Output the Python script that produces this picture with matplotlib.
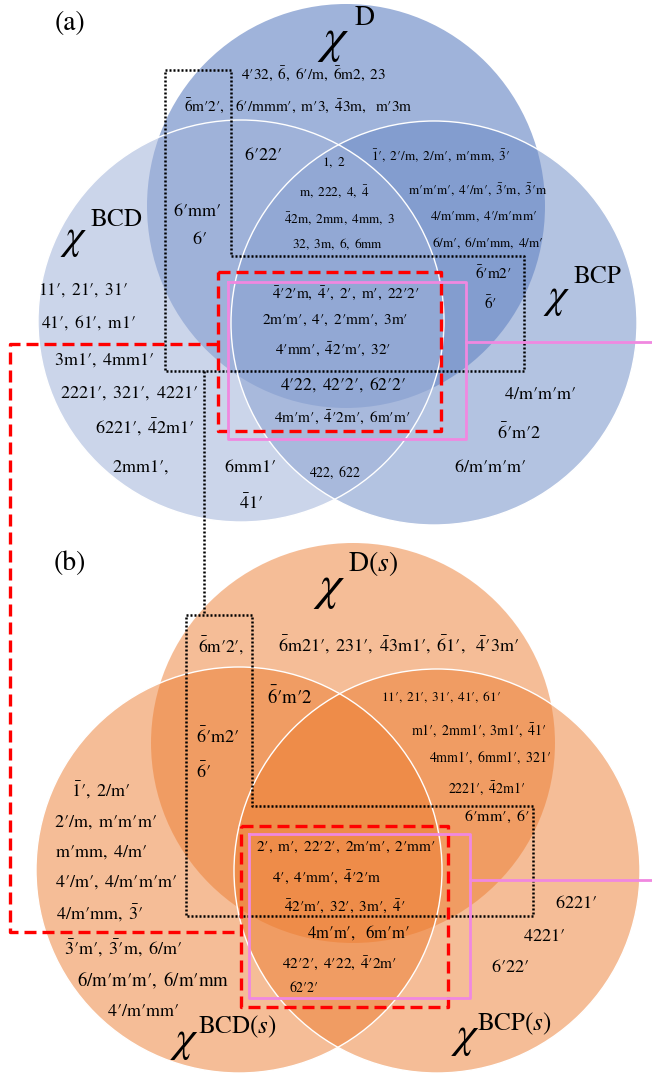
import matplotlib
matplotlib.use("Agg")
import matplotlib.pyplot as plt
from matplotlib.patches import Ellipse

plt.rcParams['mathtext.fontset'] = 'stix'
plt.rcParams['mathtext.default'] = 'rm'
plt.rcParams['font.family'] = ['STIXGeneral', 'Liberation Serif', 'DejaVu Serif']

# ---- labels, panel (a): "-x" = bar over x, "'" = prime ----
a_labels = [
    "4'32, -6, 6'/m, -6m2, 23",
    "-6m'2',",
    "6'/mmm', m'3, -43m,  m'3m",
    "6'22'",
    "1, 2",
    "m, 222, 4, -4",
    "-42m, 2mm, 4mm, 3",
    "32, 3m, 6, 6mm",
    "-1', 2'/m, 2/m', m'mm, -3'",
    "m'm'm', 4'/m', -3'm, -3'm",
    "4/m'mm, 4'/m'mm'",
    "6/m', 6/m'mm, 4/m'",
    "6'mm'",
    "6'",
    "11', 21', 31'",
    "41', 61', m1'",
    "3m1', 4mm1'",
    "2221', 321', 4221'",
    "6221', -42m1'",
    "2mm1',",
    "6mm1'",
    "422, 622",
    "-41'",
    "-6'm2'",
    "-6'",
    "-4'2'm, -4', 2', m', 22'2'",
    "2m'm', 4', 2'mm', 3m'",
    "4'mm', -42'm', 32'",
    "4'22, 42'2', 62'2'",
    "4m'm', -4'2m', 6m'm'",
    "4/m'm'm'",
    "-6'm'2",
    "6/m'm'm'",
]

# ---- labels, panel (b) ----
b_labels = [
    "-6m'2',",
    "-6m21', 231', -43m1', -61',  -4'3m'",
    "-6'm'2",
    "11', 21', 31', 41', 61'",
    "m1', 2mm1', 3m1', -41'",
    "4mm1', 6mm1', 321'",
    "2221', -42m1'",
    "6'mm', 6'",
    "-6'm2'",
    "-6'",
    "-1', 2/m'",
    "2'/m, m'm'm'",
    "m'mm, 4/m'",
    "4'/m', 4/m'm'm'",
    "4/m'mm, -3'",
    "-3'm', -3'm, 6/m'",
    "6/m'm'm', 6/m'mm",
    "4'/m'mm'",
    "2', m', 22'2', 2m'm', 2'mm'",
    "4', 4'mm', -4'2'm",
    "-42'm', 32', 3m', -4'",
    "4m'm',  6m'm'",
    "42'2', 4'22, -4'2m'",
    "62'2'",
    "6221'",
    "4221'",
    "6'22'",
]

set_names = ["D", "BCD", "BCP"]
set_names_s = [r"D(\mathit{s})", r"BCD(\mathit{s})", r"BCP(\mathit{s})"]

# ---- layout (pixel coords, y down) ----
a_pos = [(314, 74), (204, 106), (324, 106), (263, 155), (334, 163), (334, 192),
         (340, 219), (338, 244), (441, 156), (478, 190), (484, 217), (488, 243),
         (197, 212), (199, 240), (83, 290), (88, 323), (104, 360), (129, 393),
         (145, 427), (140, 467), (250, 467), (335, 473), (251, 503), (493, 273),
         (490, 303), (346, 293), (335, 320), (333, 349), (343, 385), (342, 417),
         (540, 395), (519, 433), (490, 467)]
a_size = [11, 11, 11, 13, 9.5, 9.5, 9.5, 9.5, 9.5, 9.5, 9.5, 9.5,
          13, 13, 12.5, 12.5, 13, 13, 13, 13, 13, 10, 13, 11,
          11, 11, 11, 11, 12.5, 11, 13, 13, 13]

b_pos = [(221, 645), (398, 645), (290, 697), (441, 697), (479, 730), (490, 758),
         (487, 788), (497, 817), (218, 737), (203, 772), (101, 790), (105, 822),
         (101, 852), (116, 882), (100, 913), (123, 948), (153, 980), (143, 1012),
         (346, 847), (327, 877), (345, 906), (358, 933), (340, 963), (304, 988),
         (576, 903), (544, 937), (510, 968)]
b_size = [12.5, 13, 13.5, 9.5, 10, 10, 10, 11.5, 13, 13, 13, 13,
          13, 13, 13, 13, 13.5, 13, 11, 11, 11, 12, 11, 10,
          13, 13, 13]


def mt(s):
    out = []
    i = 0
    while i < len(s):
        c = s[i]
        if c == '-':
            out.append(r'\bar{%s}' % s[i + 1])
            i += 2
            continue
        if c == ' ':
            out.append(r'\ ')
        elif c == "'":
            out.append(r'\prime ')
        else:
            out.append(c)
        i += 1
    return '$' + ''.join(out) + '$'


fig = plt.figure(figsize=(6.52, 10.76), dpi=100)
ax = fig.add_axes([0, 0, 1, 1])
ax.set_xlim(0, 652)
ax.set_ylim(1076, 0)
ax.axis('off')

# panel (a) sets: BCP, D, BCD (drawn in that order)
ax.add_patch(Ellipse((434, 323), 406, 404, color='#6988c5', alpha=0.5, lw=0))
ax.add_patch(Ellipse((346, 206), 398, 404, color='#6988c5', alpha=0.64, lw=0))
ax.add_patch(Ellipse((241, 321), 406, 402, color='#a0b2d9', alpha=0.54, lw=0))
ax.add_patch(Ellipse((241, 321), 406, 402, fill=False, ec='white', lw=1))
ax.add_patch(Ellipse((434, 323), 406, 404, fill=False, ec='white', lw=1))

# panel (b) sets
for c, w, h in [((353, 743), 404, 400), ((239, 870), 406, 406), ((437, 871), 406, 404)]:
    ax.add_patch(Ellipse(c, w, h, color='#ed7d31', alpha=0.5, lw=0))
ax.add_patch(Ellipse((239, 870), 406, 406, fill=False, ec='white', lw=1))
ax.add_patch(Ellipse((437, 871), 406, 404, fill=False, ec='white', lw=1))

# black dotted boxes + link
dot = dict(color='black', lw=1.8, ls=(0, (0.8, 0.8)), zorder=5)
ax.plot([165, 231, 231, 524, 524, 165, 165], [70, 70, 256, 256, 371, 371, 70], **dot)
ax.plot([186, 252, 252, 533, 533, 186, 186], [615, 615, 806, 806, 916, 916, 615], **dot)
ax.plot([204, 204], [371, 615], **dot)

# red dashed boxes + link
red = dict(color='#ff0000', lw=2.4, ls=(0, (3.6, 1.8)), zorder=6)
ax.plot([218, 441, 441, 218, 218], [272, 272, 431, 431, 272], **red)
ax.plot([241, 448, 448, 241, 241], [826, 826, 1007, 1007, 826], **red)
ax.plot([218, 10, 10, 241], [344, 344, 932, 932], **red)

# pink boxes + leader lines
pink = dict(color='#f088e0', lw=2.0, zorder=6)
ax.plot([228, 466, 466, 228, 228], [282, 282, 439, 439, 282], **pink)
ax.plot([466, 652], [342, 342], **pink)
ax.plot([249, 470, 470, 249, 249], [834, 834, 998, 998, 834], **pink)
ax.plot([470, 652], [880, 880], **pink)

for lab, (x, y), fs in zip(a_labels, a_pos, a_size):
    ax.text(x, y, mt(lab), fontsize=fs, ha='center', va='center', zorder=7)
for lab, (x, y), fs in zip(b_labels, b_pos, b_size):
    ax.text(x, y, mt(lab), fontsize=fs, ha='center', va='center', zorder=7)

# panel tags
ax.text(70, 23, '(a)', fontsize=20, ha='center', va='center', zorder=7)
ax.text(70, 563, '(b)', fontsize=20, ha='center', va='center', zorder=7)

# chi labels
chi_pos = [(333, 41), (74, 240), (557, 299), (329, 588), (184, 1043), (465, 1039)]
chi_size = [36, 30, 30, 36, 32, 32]
sup_pos = [(354, 18), (90, 220), (573, 277), (348, 564), (198, 1027), (477, 1024)]
sup_size = [20, 18, 18, 20, 18, 18]
sups = set_names + set_names_s
for (cx, cy), cs, (sx, sy), ss, name in zip(chi_pos, chi_size, sup_pos, sup_size, sups):
    ax.text(cx, cy, r'$\mathit{\chi}$', fontsize=cs, ha='center', va='center', zorder=7)
    ax.text(sx, sy, r'$\mathrm{%s}$' % name, fontsize=ss, ha='left', va='center', zorder=7)

fig.savefig('out.png', dpi=100)
